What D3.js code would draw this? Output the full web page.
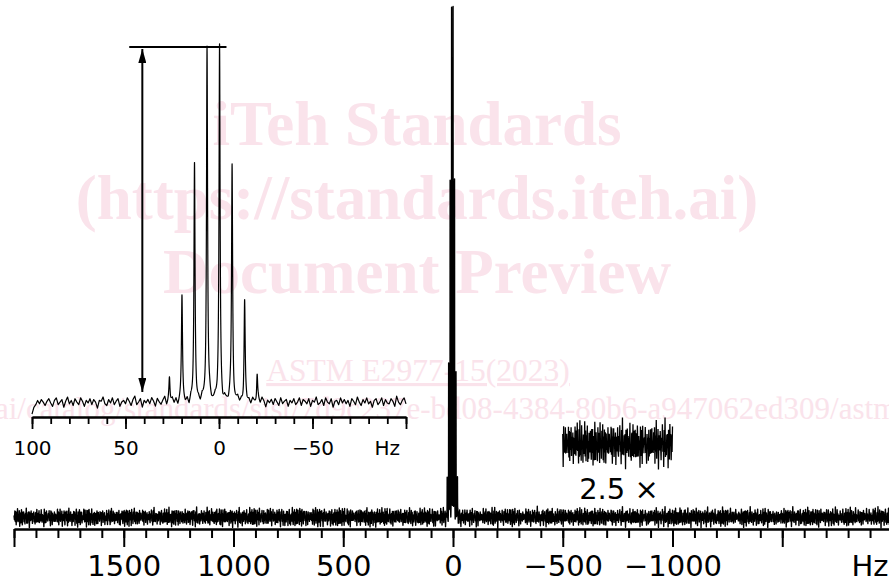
<!DOCTYPE html>
<html>
<head>
<meta charset="utf-8">
<script src="https://cdn.jsdelivr.net/npm/d3@7"></script>
<style>
  html, body { margin: 0; padding: 0; background: #fff; }
  svg { display: block; }
</style>
</head>
<body>
<div id="chart"></div>
<script>
// Tick labels
const mainTickLabels = [1500, 1000, 500, 0, -500, -1000];
const insetTickLabels = [100, 50, 0, -50];

// Multiplet lines (Hz) and their heights (tallest = 100)
const peakHz = [26.5, 19.8, 13.1, 6.4, -0.3, -7.0, -13.7, -20.4];
const peakHeight = [7, 29, 66, 100, 100, 66, 28, 8];
const halfWidthHz = 0.34;

// Baseline noise, tenths of a unit
const noiseA = [-4,-1,-2,3,-1,4,1,-3,2,5,0,-4,3,6,-2,1,4,-5,2,7,-1,3,-3,5,1,-2,6,2,-4,3,0,5,-2,4,1,-6,3,2,7,-1,
  -3,4,0,6,-2,2,5,-4,1,3,-1,6,2,-3,4,8,-2,1,5,-5,3,0,4,-1,6,2,-4,5,1,-2,3,7,-3,2,0,5,-1,4,-4,2,
  6,1,-2,3,-5,4,0,7,-1,2,-3,5,1,-4,3,6,-2,0,4,-1,5,2,-6,3,1,-2,6,4,-3,1,5,-1,2,-4,7,0,3,-2,5,1,
  -3,4,-1,6,2,-5,3,0,4,-2,5,1,-3,6,-1,2,4,-4,3,0,5,-2,1,6,-3,4,2,-1,5,-4,3,1,7,-2,0,4,-3,6,1,-1,
  5,-5,2,3,-2,6,0,4,-1,3,-4,5,2,-2,7,1,-3,4,0,6,-1,2,-5,3,5,-2,1,6,-3,4,0,-1,5,2,-4,8,1,-2,3,6,
  -1,4,-3,2,5,0,7,-2,3,-1,4];
const noiseB = [3,-7,12,-4,8,-11,5,-2,14,-9,6,-5,10,-13,2,7,-6,11,-3,-10,9,-1,13,-8,4,-12,8,-4,15,-6,
  1,-9,10,-2,6,-14,7,3,-7,12,-5,9,-10,4,-1,11,-8,2,-12,8,5,-6,13,-3,-9,7,-4,10,-11,1,
  6,-7,14,-2,-8,9,-5,3,-13,11,0,-6,8,-10,12,-4,5,-9,7,-1,13,-7,2,-11,9,-3,6,-12,10,-5,
  4,-8,11,-2,-6,8,-3];
// dip at the left end of the inset trace (units)
const insetLeadIn = [-2.2, -1.0];

// Watermark text
const watermark = ["iTeh Standards", "(https://standards.iteh.ai)", "Document Preview"];
const docId = "ASTM E2977-15(2023)";
const docUrl = "https://standards.iteh.ai/catalog/standards/sist/7d9c237e-bd08-4384-80b6-a947062ed309/astm-e2977-152023";

const width = 889, height = 583;
const labelFont = '"DejaVu Sans", sans-serif';
const pink = '#fae3eb';

const svg = d3.select('#chart').append('svg')
  .attr('width', width).attr('height', height)
  .attr('viewBox', `0 0 ${width} ${height}`);

// ---- watermark (behind everything)
const wm = svg.append('g').attr('fill', pink).attr('font-family', '"Liberation Serif", "Times New Roman", serif');
wm.selectAll('text.big').data(watermark).enter().append('text')
  .attr('class', 'big')
  .attr('x', 417).attr('y', (d, i) => 145 + i * 74)
  .attr('text-anchor', 'middle')
  .attr('font-weight', 'bold').attr('font-size', 63)
  .text(d => d);
wm.append('text')
  .attr('x', 418).attr('y', 381)
  .attr('text-anchor', 'middle').attr('font-size', 31.5)
  .attr('text-decoration', 'underline')
  .text(docId);
const urlText = wm.append('text').attr('y', 419).attr('font-size', 31).text(docUrl);
const probe = wm.append('text').attr('font-size', 31).text('https://standards.iteh.');
const prefixW = probe.node().getComputedTextLength();
probe.remove();
urlText.attr('x', -prefixW - 5);

// ---- helpers
function lineSum(f) {
  let s = 0;
  for (let k = 0; k < peakHz.length; k++) {
    const d = (f - peakHz[k]) / halfWidthHz;
    s += peakHeight[k] / (1 + d * d);
  }
  return s;
}

// ---- main spectrum
const xMain = d3.scaleLinear().domain([2000, -2000]).range([14, 892]);
const yMain = d3.scaleLinear().domain([0, 100]).range([518, 9]);
const yBox = d3.scaleLinear().domain([0, 100]).range([446, 446 - 2.5 * 509]);

const mainStep = 2;
function mainNoiseAt(i) {
  return 1.2 * (0.6 * noiseA[(i + 37) % noiseA.length] + noiseB[i % noiseB.length]) / 10;
}
function mainNoise(f) {
  const p = (2000 - f) / mainStep;
  const i0 = Math.floor(p), t = p - i0;
  return mainNoiseAt(i0) * (1 - t) + mainNoiseAt(i0 + 1) * t;
}
const mainPts = [];
for (let i = 0; i <= 4000 / mainStep; i++) {
  const f = 2000 - i * mainStep;
  if (Math.abs(f) < 35) continue;
  mainPts.push({f, v: mainNoiseAt(i) + lineSum(f)});
}
for (let f = 35; f >= -35; f -= 0.05) {
  mainPts.push({f, v: mainNoise(f) + lineSum(f)});
}
mainPts.sort((a, b) => b.f - a.f);

const mainLine = d3.line().x(d => xMain(d.f)).y(d => yMain(d.v));
svg.append('path').datum(mainPts)
  .attr('fill', 'none').attr('stroke', '#000').attr('stroke-width', 1.4)
  .attr('stroke-linejoin', 'round')
  .attr('d', mainLine);

// 2.5x expansion of the -500 .. -1000 Hz baseline
const boxPts = mainPts.filter(d => d.f <= -500 && d.f >= -1000);
svg.append('path').datum(boxPts)
  .attr('fill', 'none').attr('stroke', '#000').attr('stroke-width', 1.3)
  .attr('d', d3.line().x(d => xMain(d.f)).y(d => yBox(d.v)));
svg.append('text')
  .attr('x', 619).attr('y', 499)
  .attr('text-anchor', 'middle')
  .attr('font-family', labelFont).attr('font-size', 29)
  .text('2.5 \u00d7');

// main axis
const mainAxisG = svg.append('g').attr('transform', 'translate(0,529)');
mainAxisG.call(d3.axisBottom(xMain).tickValues(d3.range(2000, -2001, -100)).tickSize(9).tickSizeOuter(0).tickFormat(''));
mainAxisG.append('g').call(d3.axisBottom(xMain).tickValues(d3.range(2000, -2001, -500)).tickSize(18).tickSizeOuter(0)
  .tickFormat(d => mainTickLabels.includes(d) ? d3.format('d')(d) : ''));
mainAxisG.selectAll('.domain').attr('stroke-width', 2);
mainAxisG.selectAll('line').attr('stroke-width', 2);
mainAxisG.selectAll('text')
  .attr('font-family', labelFont).attr('font-size', 29).attr('fill', '#000')
  .attr('y', 47).attr('dy', 0);
svg.append('text')
  .attr('x', xMain(-1900)).attr('y', 576)
  .attr('text-anchor', 'middle')
  .attr('font-family', labelFont).attr('font-size', 29)
  .text('Hz');

// ---- inset (expanded multiplet)
const xIn = d3.scaleLinear().domain([100, -100]).range([32, 406]);
const yIn = d3.scaleLinear().domain([0, 100]).range([403, 48]);

function inNoiseAt(i) {
  return noiseA[i % noiseA.length] * 0.24 + (i < insetLeadIn.length ? insetLeadIn[i] : 0);
}
function inNoise(f) {
  const p = 100 - f;
  const i0 = Math.floor(p), t = p - i0;
  return inNoiseAt(i0) * (1 - t) + inNoiseAt(i0 + 1) * t;
}
const inPts = [];
for (let i = 0; i <= 200; i++) {
  const f = 100 - i;
  if (f < 32 && f > -30) continue;
  inPts.push({f, v: inNoiseAt(i) + lineSum(f)});
}
for (let f = 32; f >= -30; f -= 0.04) {
  inPts.push({f, v: inNoise(f) + lineSum(f)});
}
inPts.sort((a, b) => b.f - a.f);

svg.append('path').datum(inPts)
  .attr('fill', 'none').attr('stroke', '#000').attr('stroke-width', 1.2)
  .attr('stroke-linejoin', 'round')
  .attr('d', d3.line().x(d => xIn(d.f)).y(d => yIn(d.v)));

const inAxisG = svg.append('g').attr('transform', 'translate(0,417)');
inAxisG.call(d3.axisBottom(xIn).tickValues(d3.range(100, -101, -10)).tickSize(7).tickSizeOuter(0).tickFormat(''));
inAxisG.append('g').call(d3.axisBottom(xIn).tickValues(d3.range(100, -101, -50)).tickSize(12).tickSizeOuter(0)
  .tickFormat(d => insetTickLabels.includes(d) ? d3.format('d')(d) : ''));
inAxisG.selectAll('.domain').attr('stroke-width', 1.8);
inAxisG.selectAll('line').attr('stroke-width', 1.8);
inAxisG.selectAll('text')
  .attr('font-family', labelFont).attr('font-size', 20).attr('fill', '#000')
  .attr('y', 38).attr('dy', 0);
svg.append('text')
  .attr('x', xIn(-90)).attr('y', 455)
  .attr('text-anchor', 'middle')
  .attr('font-family', labelFont).attr('font-size', 20)
  .text('Hz');

// height arrow and reference bar
const defs = svg.append('defs');
defs.append('marker')
  .attr('id', 'arrow')
  .attr('viewBox', '0 0 14 8')
  .attr('refX', 14).attr('refY', 4)
  .attr('markerWidth', 14).attr('markerHeight', 8)
  .attr('markerUnits', 'userSpaceOnUse')
  .attr('orient', 'auto-start-reverse')
  .append('path')
  .attr('d', 'M0,0 L14,4 L0,8 Z')
  .attr('fill', '#000');

const topY = yIn(100.3);
svg.append('line')
  .attr('x1', xIn(48)).attr('x2', xIn(-4))
  .attr('y1', topY).attr('y2', topY)
  .attr('stroke', '#000').attr('stroke-width', 2);
svg.append('line')
  .attr('x1', xIn(41)).attr('x2', xIn(41))
  .attr('y1', topY + 2).attr('y2', yIn(0) - 11)
  .attr('stroke', '#000').attr('stroke-width', 2)
  .attr('marker-start', 'url(#arrow)')
  .attr('marker-end', 'url(#arrow)');
</script>
</body>
</html>
